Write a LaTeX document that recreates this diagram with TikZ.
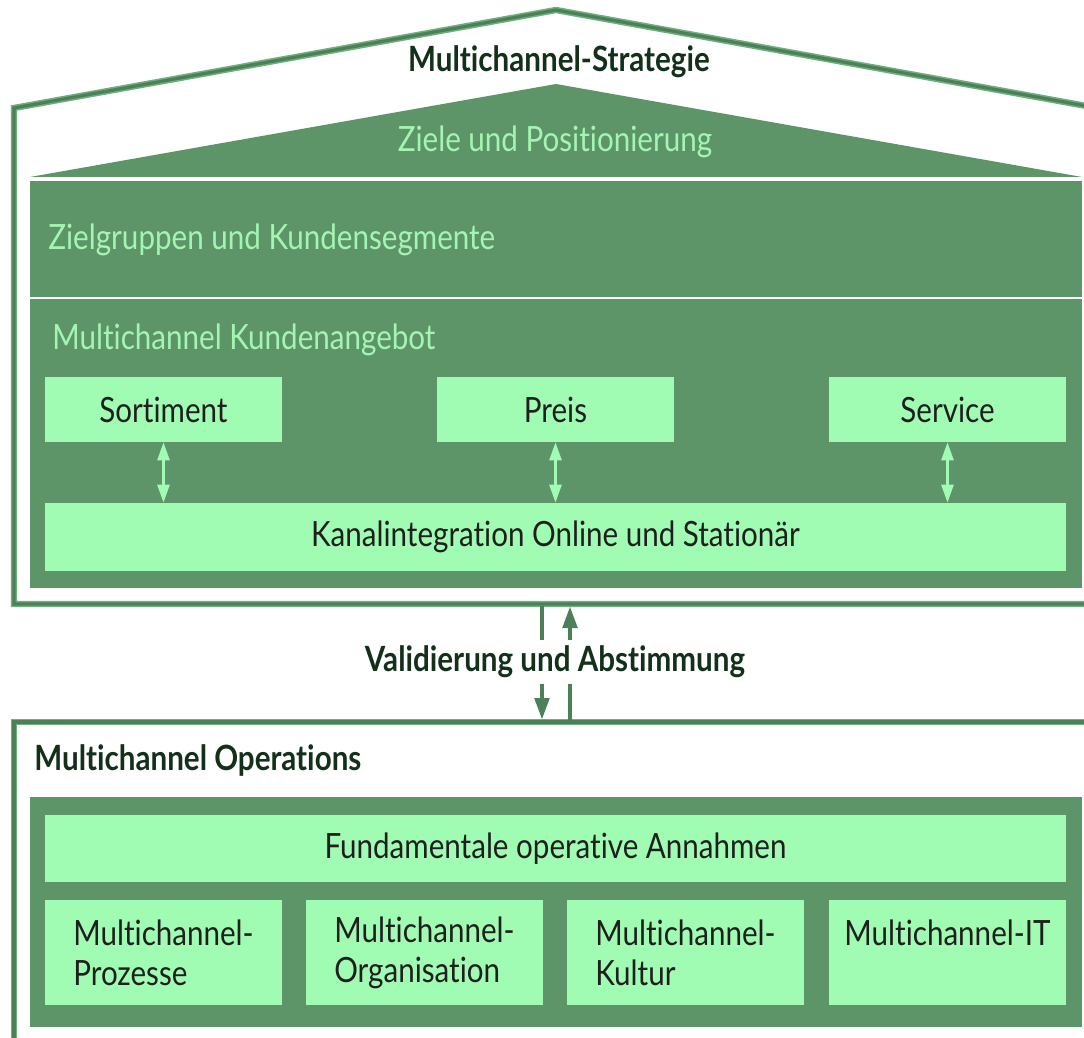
\documentclass[tikz,border=0pt]{standalone}
\usepackage{fontspec}
\setmainfont{Lato}[FakeStretch=0.85, Ligatures=NoCommon]
\usepackage{tikz}
\usetikzlibrary{arrows.meta}

\definecolor{panelgreen}{HTML}{5E9568}
\definecolor{boxgreen}{HTML}{A0FCB2}
\definecolor{headgreen}{HTML}{A4F5B4}
\definecolor{framegreen}{HTML}{4D7F58}
\definecolor{rimgreen}{HTML}{6DB07D}
\definecolor{titlegreen}{HTML}{12301A}

\begin{document}
\begin{tikzpicture}[x=0.5pt, y=-0.5pt, line join=miter,
    frame/.style={draw=rimgreen, line width=3.2pt, postaction={draw=framegreen, line width=1.6pt}},
    boxfont/.style={font=\fontsize{17.4}{20}\selectfont},
    lightbox/.style={boxfont, fill=boxgreen, text=black!88, inner sep=0pt, minimum width=118.5pt, minimum height=32.5pt},
    widebox/.style={lightbox, minimum width=510.5pt, minimum height=34pt},
    areabox/.style={lightbox, minimum height=52.5pt, align=left},
    heading/.style={boxfont, text=headgreen, inner sep=0pt},
    title/.style={font=\fontsize{17.4}{20}\selectfont\bfseries, text=titlegreen, inner sep=0pt},
    sync/.style={draw=framegreen, line width=2.4pt, -{Triangle[width=7pt,length=11pt]}},
    link/.style={draw=boxgreen, line width=1.4pt, {Triangle[width=6pt,length=9pt]}-{Triangle[width=6pt,length=9pt]}}]

    \useasboundingbox (0,0) rectangle (1084,1038);

    % strategy house
    \fill[panelgreen] (30,177) -- (556,84) -- (1082,177) -- cycle;
    \fill[panelgreen] (30,181) rectangle (1082,588);
    \draw[white, line width=1pt] (30,298) -- (1082,298);
    \draw[frame] (1092,604) -- (14,604) -- (14,108) -- (556,10) -- (1092,107);

    \node[title] (strategie) at (559,62) {Multichannel-Strategie};
    \node[heading] (ziele) at (555,142) {Ziele und Positionierung};
    \node[heading, anchor=west] (zielgruppen) at (48,240) {Zielgruppen und Kundensegmente};
    \node[heading, anchor=west] (angebot) at (52,340) {Multichannel Kundenangebot};

    \node[lightbox] (sortiment) at (163.5,409.5) {Sortiment};
    \node[lightbox] (preis) at (555.5,409.5) {Preis};
    \node[lightbox] (service) at (947.5,409.5) {Service};
    \node[widebox] (kanal) at (555.5,537) {Kanalintegration Online und Stationär};

    \draw[link] (sortiment.south) -- (sortiment.south |- kanal.north);
    \draw[link] (preis.south) -- (preis.south |- kanal.north);
    \draw[link] (service.south) -- (service.south |- kanal.north);

    % operations
    \fill[panelgreen] (30,797) rectangle (1082,1027);
    \draw[frame] (1092,722) -- (14,722) -- (14,1046);

    \node[title, anchor=west] (operations) at (34,760) {Multichannel Operations};
    \node[widebox, minimum height=33.5pt] (annahmen) at (555.5,848.5) {Fundamentale operative Annahmen};
    \node[areabox] (prozesse) at (163.5,952.5) {Multichannel-\\Prozesse};
    \node[areabox] (organisation) at (424.5,952.5) {Multichannel-\\Organisation};
    \node[areabox] (kultur) at (685.5,952.5) {Multichannel-\\Kultur};
    \node[areabox] (it) at (947.5,952.5) {Multichannel-IT\\\mbox{}};

    % feedback between the two levels
    \coordinate (upper) at (556,606);
    \coordinate (lower) at (556,720);
    \draw[sync] ([xshift=-7pt]upper) -- ([xshift=-7pt]lower);
    \draw[sync] ([xshift=7pt]lower) -- ([xshift=7pt]upper);
    \node[title, fill=white, inner sep=3pt] (validierung) at (555,662) {Validierung und Abstimmung};
\end{tikzpicture}
\end{document}
